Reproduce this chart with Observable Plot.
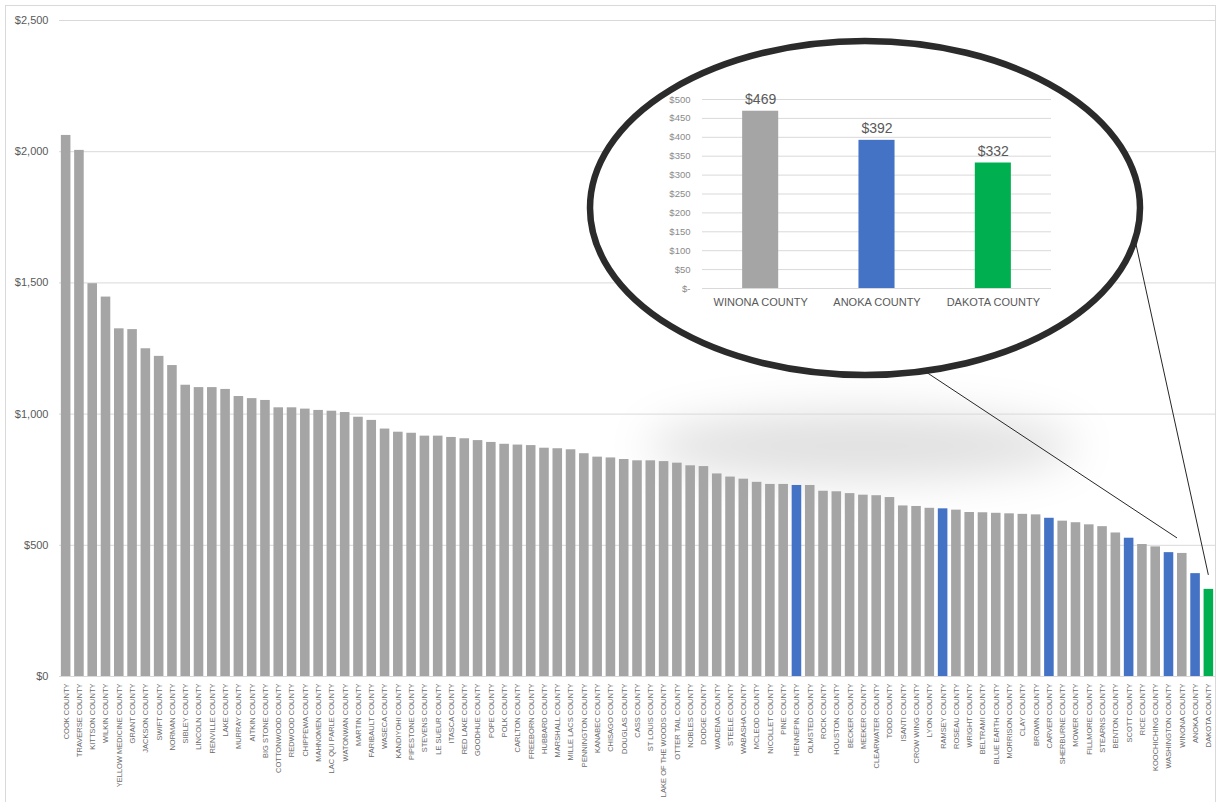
<!DOCTYPE html>
<html>
<head>
<meta charset="utf-8">
<script src="https://cdn.jsdelivr.net/npm/d3@7"></script>
<script src="https://cdn.jsdelivr.net/npm/@observablehq/plot@0.6"></script>
<style>
  html, body { margin: 0; padding: 0; background: #fff; }
  #wrap { position: relative; width: 1217px; height: 802px; overflow: hidden; background: #fff; }
  #wrap > * { position: absolute; }
</style>
</head>
<body>
<div id="wrap"></div>
<script>
// ---- data ----
const counties = [
  "COOK COUNTY","TRAVERSE COUNTY","KITTSON COUNTY","WILKIN COUNTY","YELLOW MEDICINE COUNTY",
  "GRANT COUNTY","JACKSON COUNTY","SWIFT COUNTY","NORMAN COUNTY","SIBLEY COUNTY",
  "LINCOLN COUNTY","RENVILLE COUNTY","LAKE COUNTY","MURRAY COUNTY","AITKIN COUNTY",
  "BIG STONE COUNTY","COTTONWOOD COUNTY","REDWOOD COUNTY","CHIPPEWA COUNTY","MAHNOMEN COUNTY",
  "LAC QUI PARLE COUNTY","WATONWAN COUNTY","MARTIN COUNTY","FARIBAULT COUNTY","WASECA COUNTY",
  "KANDIYOHI COUNTY","PIPESTONE COUNTY","STEVENS COUNTY","LE SUEUR COUNTY","ITASCA COUNTY",
  "RED LAKE COUNTY","GOODHUE COUNTY","POPE COUNTY","POLK COUNTY","CARLTON COUNTY",
  "FREEBORN COUNTY","HUBBARD COUNTY","MARSHALL COUNTY","MILLE LACS COUNTY","PENNINGTON COUNTY",
  "KANABEC COUNTY","CHISAGO COUNTY","DOUGLAS COUNTY","CASS COUNTY","ST LOUIS COUNTY",
  "LAKE OF THE WOODS COUNTY","OTTER TAIL COUNTY","NOBLES COUNTY","DODGE COUNTY","WADENA COUNTY",
  "STEELE COUNTY","WABASHA COUNTY","MCLEOD COUNTY","NICOLLET COUNTY","PINE COUNTY",
  "HENNEPIN COUNTY","OLMSTED COUNTY","ROCK COUNTY","HOUSTON COUNTY","BECKER COUNTY",
  "MEEKER COUNTY","CLEARWATER COUNTY","TODD COUNTY","ISANTI COUNTY","CROW WING COUNTY",
  "LYON COUNTY","RAMSEY COUNTY","ROSEAU COUNTY","WRIGHT COUNTY","BELTRAMI COUNTY",
  "BLUE EARTH COUNTY","MORRISON COUNTY","CLAY COUNTY","BROWN COUNTY","CARVER COUNTY",
  "SHERBURNE COUNTY","MOWER COUNTY","FILLMORE COUNTY","STEARNS COUNTY","BENTON COUNTY",
  "SCOTT COUNTY","RICE COUNTY","KOOCHICHING COUNTY","WASHINGTON COUNTY","WINONA COUNTY",
  "ANOKA COUNTY","DAKOTA COUNTY"
];
const values = [
  2062, 2005, 1497, 1446, 1325,
  1322, 1249, 1220, 1185, 1110,
  1101, 1101, 1094, 1067, 1059,
  1052, 1024, 1024, 1019, 1014,
  1011, 1006, 988, 976, 943,
  931, 927, 916, 916, 911,
  906, 899, 892, 885, 882,
  880, 870, 868, 864, 849,
  836, 833, 827, 822, 822,
  819, 813, 803, 800, 772,
  760, 752, 740, 732, 732,
  728, 728, 706, 704, 697,
  691, 689, 682, 650, 648,
  641, 639, 634, 625, 624,
  622, 620, 618, 616, 603,
  592, 586, 578, 571, 547,
  527, 503, 494, 472, 469,
  392, 332
];
const metroCounties = ["HENNEPIN COUNTY","RAMSEY COUNTY","CARVER COUNTY","SCOTT COUNTY","WASHINGTON COUNTY","ANOKA COUNTY"];
const focusCounties = ["DAKOTA COUNTY"];
const insetCounties = ["WINONA COUNTY","ANOKA COUNTY","DAKOTA COUNTY"];
const insetValues = [469, 392, 332];
const mainTicks = [0, 500, 1000, 1500, 2000, 2500];
const insetTicks = [0, 50, 100, 150, 200, 250, 300, 350, 400, 450, 500];

const groupOf = c => focusCounties.includes(c) ? "focus" : metroCounties.includes(c) ? "metro" : "other";
const rows = counties.map((c, i) => ({county: c, value: values[i], group: groupOf(c)}));
const insetRows = insetCounties.map((c, i) => ({county: c, value: insetValues[i], group: groupOf(c)}));

const colorScale = {domain: ["other", "metro", "focus"], range: ["#a5a5a5", "#4472c4", "#00b050"]};
const money = d => "$" + d3.format(",")(d);
const FONT = "Liberation Sans, Arial, sans-serif";

const wrap = document.getElementById("wrap");
const NS = "http://www.w3.org/2000/svg";

// ---- shadow layer (behind the main chart) ----
const shadow = document.createElementNS(NS, "svg");
shadow.setAttribute("width", 1217); shadow.setAttribute("height", 802);
shadow.style.left = "0px"; shadow.style.top = "0px";
shadow.innerHTML = `<defs><filter id="blur" x="-50%" y="-100%" width="200%" height="300%"><feGaussianBlur stdDeviation="22"/></filter></defs>
<ellipse cx="862" cy="446" rx="215" ry="34" fill="#000" fill-opacity="0.12" filter="url(#blur)"/>`;
wrap.appendChild(shadow);

// ---- main chart ----
const main = Plot.plot({
  width: 1217, height: 802,
  marginLeft: 59, marginRight: 2, marginTop: 20, marginBottom: 126,
  style: {background: "transparent", fontFamily: FONT, color: "#595959", overflow: "visible"},
  x: {domain: counties, paddingInner: 0.28, paddingOuter: 0.14, round: false, label: null},
  y: {domain: [0, 2500], label: null},
  color: colorScale,
  marks: [
    Plot.ruleY(mainTicks, {stroke: "#d9d9d9", strokeWidth: 1}),
    Plot.barY(rows, {x: "county", y: "value", fill: "group"}),
    Plot.axisY(mainTicks, {tickSize: 0, tickPadding: 11, tickFormat: money, fontSize: 11, label: null, fill: "#595959"}),
    Plot.axisX({tickSize: 0, tickPadding: 7, tickRotate: -90, fontSize: 7.5, label: null, fill: "#6a6a6a"})
  ]
});
main.style.left = "0px"; main.style.top = "0px";
wrap.appendChild(main);

// ---- overlay: connector lines, magnifier ellipse, border ----
const xs = main.scale("x"), ys = main.scale("y");
const bw = xs.bandwidth;
const wx = xs.apply("WINONA COUNTY"), wy = ys.apply(469);
const dx = xs.apply("DAKOTA COUNTY") + bw / 2, dy = ys.apply(332);
const over = document.createElementNS(NS, "svg");
over.setAttribute("width", 1217); over.setAttribute("height", 802);
over.style.left = "0px"; over.style.top = "0px";
over.innerHTML = `
<rect x="5.5" y="5.5" width="1210" height="800" fill="none" stroke="#d9d9d9"/>
<line x1="926" y1="372" x2="${wx}" y2="${wy - 15}" stroke="#262626" stroke-width="1"/>
<line x1="1132" y1="226" x2="${dx}" y2="${dy - 14}" stroke="#262626" stroke-width="1"/>
<ellipse cx="865" cy="208" rx="275" ry="167" fill="#fff" stroke="#2b2b2b" stroke-width="6.5"/>`;
wrap.appendChild(over);

// ---- inset chart ----
const inset = Plot.plot({
  width: 430, height: 240,
  marginLeft: 62, marginRight: 19, marginTop: 19, marginBottom: 32,
  style: {background: "transparent", fontFamily: FONT, color: "#7f7f7f", overflow: "visible"},
  x: {domain: insetCounties, paddingInner: 0.69, paddingOuter: 0.345, round: false, label: null},
  y: {domain: [0, 500], label: null},
  color: colorScale,
  marks: [
    Plot.ruleY(insetTicks, {stroke: "#d9d9d9", strokeWidth: 1}),
    Plot.barY(insetRows, {x: "county", y: "value", fill: "group"}),
    Plot.text(insetRows, {x: "county", y: "value", text: d => money(d.value), dy: -7, lineAnchor: "bottom", fontSize: 14, fill: "#595959"}),
    Plot.axisY(insetTicks, {tickSize: 0, tickPadding: 12, tickFormat: d => d === 0 ? "$-" : "$" + d, fontSize: 9.5, label: null, fill: "#8a8a8a"}),
    Plot.axisX({tickSize: 0, tickPadding: 10, fontSize: 11, label: null, fill: "#595959"})
  ]
});
inset.style.left = "640px"; inset.style.top = "80px";
wrap.appendChild(inset);
</script>
</body>
</html>
